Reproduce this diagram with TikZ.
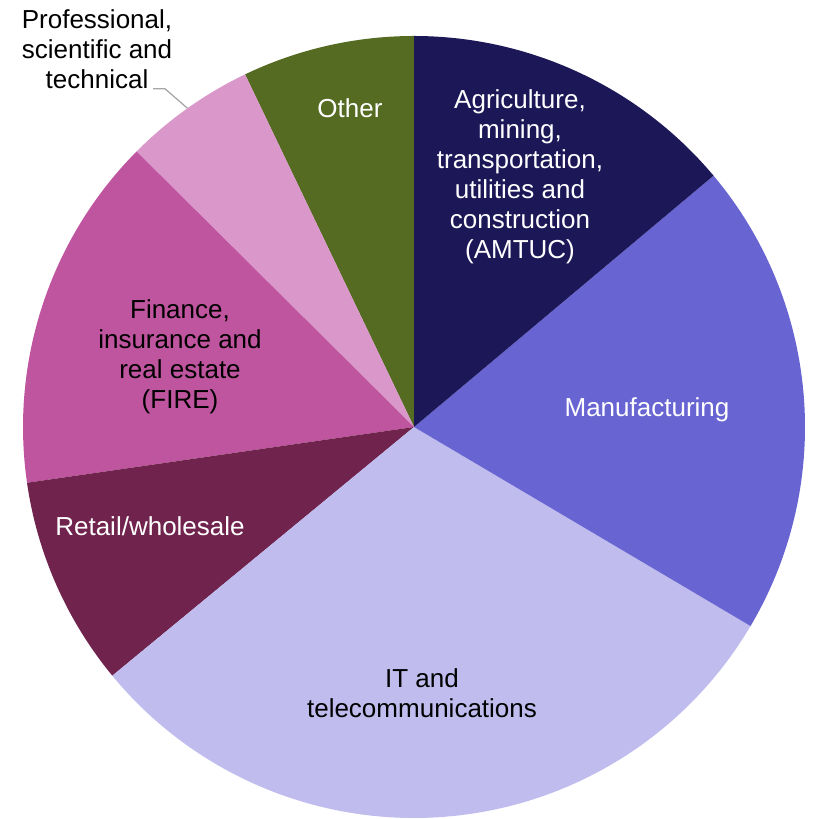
\documentclass[tikz,border=0pt]{standalone}
\usepackage{fontspec}
\setmainfont{Liberation Sans}
\usetikzlibrary{positioning,calc}

\definecolor{otherol}{HTML}{556B22}
\definecolor{amtucnv}{HTML}{1C1858}
\definecolor{manufvi}{HTML}{6865D3}
\definecolor{itlav}{HTML}{C0BDEE}
\definecolor{retailmr}{HTML}{70244D}
\definecolor{firepk}{HTML}{BF559F}
\definecolor{profpk}{HTML}{DA97CA}

\begin{document}
\begin{tikzpicture}[
        x=0.025cm, y=0.025cm,
        lbl/.style={align=center, inner sep=0pt,
        font=\fontsize{18.5}{21.3}\selectfont},
        lblw/.style={lbl, text=white},
        lblk/.style={lbl, text=black},
        leader/.style={draw=gray!70, line width=0.9pt}
    ]
        \useasboundingbox (0,0) rectangle (812,819);
        \coordinate (c) at (414,392);

% Slices, counter-clockwise from the top
        \fill[otherol]  (c) -- ++(90:391)    arc[start angle=90,    end angle=115.6, radius=391] -- cycle;
        \fill[profpk]   (c) -- ++(115.6:391) arc[start angle=115.6, end angle=135.2, radius=391] -- cycle;
        \fill[firepk]   (c) -- ++(135.2:391) arc[start angle=135.2, end angle=188.2, radius=391] -- cycle;
        \fill[retailmr] (c) -- ++(188.2:391) arc[start angle=188.2, end angle=219.5, radius=391] -- cycle;
        \fill[itlav]    (c) -- ++(219.5:391) arc[start angle=219.5, end angle=329.4, radius=391] -- cycle;
        \fill[manufvi]  (c) -- ++(-30.6:391) arc[start angle=-30.6, end angle=40,    radius=391] -- cycle;
        \fill[amtucnv]  (c) -- ++(40:391)    arc[start angle=40,    end angle=90,    radius=391] -- cycle;

% Labels
        \node[lblw] (other) at (350,711) {Other};
        \node[lblw] (amtuc) at (520,642) {Agriculture,\\ mining,\\ transportation,\\ utilities and\\ construction\\ (AMTUC)};
        \node[lblw] (manuf) at (647,409) {Manufacturing};
        \node[lblk] (it) at (422,126) {IT and\\ telecommunications};
        \node[lblw] (retail) at (150,293) {Retail/wholesale};
        \node[lblk] (fire) at (180,462) {Finance,\\ insurance and\\ real estate\\ (FIRE)};
        \node[lblk] (prof) at (97,770) {Professional,\\ scientific and\\ technical};

% Leader for the small slice
        \coordinate (proftip) at ($(c)+(125.4:391)$);
        \draw[leader] (prof.south) ++(56,0) -- ++(12,0) -- (proftip);

    \end{tikzpicture}
\end{document}
